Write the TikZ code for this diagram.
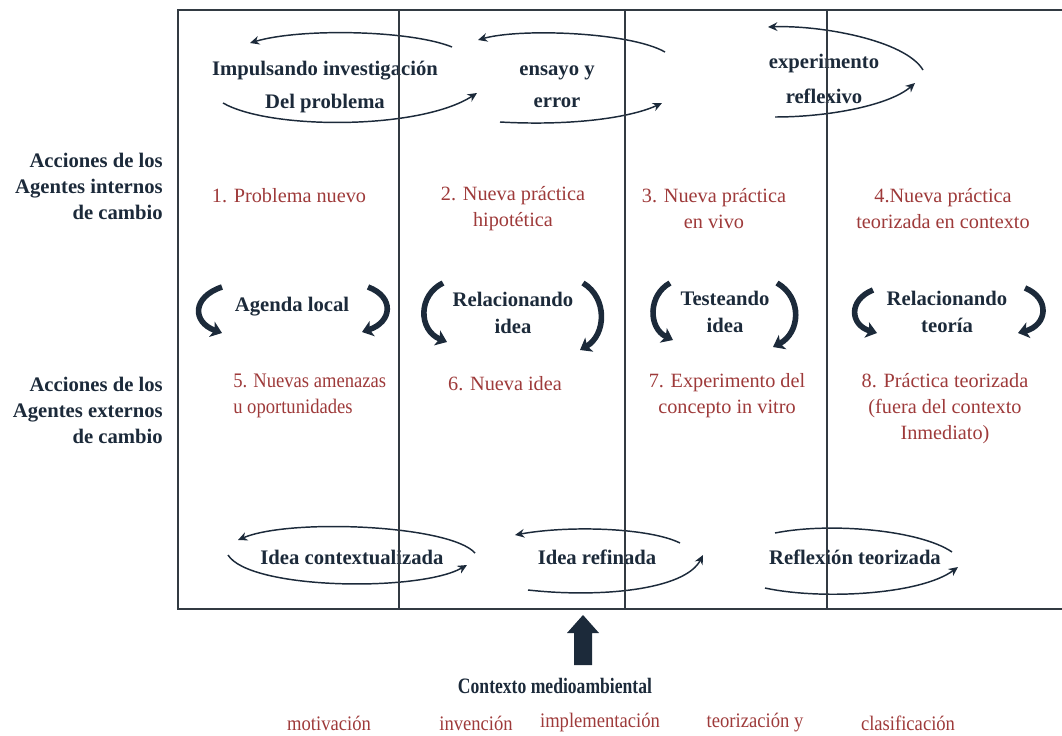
\documentclass[tikz,border=0pt]{standalone}
\usepackage{fontspec}
\setmainfont{Liberation Serif}
\newfontfamily\narrowserif{Liberation Serif}[FakeStretch=0.8]
\newfontfamily\slimserif{Liberation Serif}[FakeStretch=0.9]
\usetikzlibrary{arrows.meta}
\definecolor{navy}{RGB}{28,42,58}
\definecolor{rust}{RGB}{158,58,58}
\definecolor{frame}{RGB}{50,58,66}

\begin{document}
\begin{tikzpicture}[x=0.75pt, y=-0.75pt,
		head_style/.style={font=\fontsize{15.5}{19.5}\selectfont\bfseries, text=navy, align=center, inner sep=0pt},
		stage_style/.style={font=\fontsize{15.2}{19.5}\selectfont, text=rust, align=center, inner sep=0pt},
		phase_style/.style={font=\fontsize{15.5}{19.5}\slimserif, text=rust, inner sep=0pt},
		frame_style/.style={draw=frame, line width=1.4pt},
		divider_style/.style={draw=frame, line width=1pt},
		loop_style/.style={draw=navy, line width=1.1pt, -{Stealth[length=7pt,width=6.5pt]}},
		turn_style/.style={draw=navy, line width=4.2pt, -{Stealth[length=8pt,width=12pt,inset=2pt]}}]

	\useasboundingbox (0,0) rectangle (1062,735);

	% row labels
	\node[head_style, align=right, anchor=east] (int) at (163,186) {Acciones de los\\Agentes internos\\de cambio};
	\node[head_style, align=right, anchor=east] (ext) at (163,410) {Acciones de los\\Agentes externos\\de cambio};

	% top cycles
	\node[head_style, font=\fontsize{15.5}{24.5}\selectfont\bfseries] (c1) at (325,87) {Impulsando investigación\\Del problema};
	\node[head_style, font=\fontsize{15.5}{24}\selectfont\bfseries] (c2) at (557,87) {ensayo y\\error};
	\node[head_style, font=\fontsize{15.5}{26.5}\selectfont\bfseries] (c3) at (824,79) {experimento\\reflexivo};

	\draw[loop_style] (452,47) .. controls (410,30) and (300,28) .. (250,43);
	\draw[loop_style] (223,103) .. controls (270,130) and (420,130) .. (477,93);
	\draw[loop_style] (665,52) .. controls (630,32) and (520,28) .. (478,40);
	\draw[loop_style] (500,122) .. controls (570,126) and (630,118) .. (662,103);
	\draw[loop_style] (923,70) .. controls (905,40) and (820,25) .. (768,27);
	\draw[loop_style] (775,117) .. controls (830,117) and (890,105) .. (915,83);

	% stages
	\node[stage_style] (s1) at (289,196) {1. Problema nuevo};
	\node[stage_style] (s2) at (513,209) {2. Nueva práctica\\hipotética};
	\node[stage_style] (s3) at (714,209) {3. Nueva práctica\\en vivo};
	\node[stage_style] (s4) at (943,209) {4.Nueva práctica\\teorizada en contexto};

	\node[head_style] (m1) at (292,307) {Agenda local};
	\node[head_style, font=\fontsize{15.5}{20}\selectfont\bfseries] (m2) at (513,313) {Relacionando\\idea};
	\node[head_style, font=\fontsize{15.5}{20}\selectfont\bfseries] (m3) at (725,312) {Testeando\\idea};
	\node[head_style, font=\fontsize{15.5}{20}\selectfont\bfseries] (m4) at (947,312) {Relacionando\\teoría};

	\draw[turn_style] (222,287) .. controls (192,297) and (192,322) .. (222,333);
	\draw[turn_style] (368,287) .. controls (395,297) and (392,322) .. (362,332);
	\draw[turn_style] (443,283) .. controls (418,295) and (418,330) .. (447,342);
	\draw[turn_style] (583,283) .. controls (608,298) and (606,335) .. (580,350);
	\draw[turn_style] (670,283) .. controls (648,295) and (648,328) .. (673,340);
	\draw[turn_style] (777,283) .. controls (803,298) and (800,333) .. (773,347);
	\draw[turn_style] (873,290) .. controls (848,300) and (850,325) .. (877,333);
	\draw[turn_style] (1025,288) .. controls (1050,298) and (1048,325) .. (1018,333);

	\node[phase_style, align=left, anchor=west] (s5) at (233,396) {5. Nuevas amenazas\\u oportunidades};
	\node[stage_style] (s6) at (505,384) {6. Nueva idea};
	\node[stage_style] (s7) at (727,396) {7. Experimento del\\concepto in vitro};
	\node[stage_style] (s8) at (945,409) {8. Práctica teorizada\\(fuera del contexto\\Inmediato)};

	% bottom cycles
	\node[head_style] (b1) at (352,557) {Idea contextualizada};
	\node[head_style] (b2) at (597,557) {Idea refinada};
	\node[head_style] (b3) at (855,557) {Reflexión teorizada};

	\draw[loop_style] (475,553) .. controls (450,525) and (290,518) .. (238,540);
	\draw[loop_style] (228,555) .. controls (250,590) and (420,592) .. (467,565);
	\draw[loop_style] (680,543) .. controls (650,528) and (570,525) .. (515,535);
	\draw[loop_style] (528,590) .. controls (600,598) and (685,590) .. (703,555);
	\draw[loop_style, -] (775,533) .. controls (830,522) and (920,530) .. (952,552);
	\draw[loop_style] (765,588) .. controls (820,600) and (920,595) .. (958,567);

	% frame
	\draw[frame_style] (1062,10) -- (178,10) -- (178,609) -- (1062,609);
	\foreach \x in {399,625,827}
		\draw[divider_style] (\x,10) -- (\x,609);

	% context
	\fill[navy] (583,615) -- (599,633) -- (592,633) -- (592,665) -- (574,665) -- (574,633) -- (567,633) -- cycle;
	\node[head_style, font=\fontsize{16.5}{20}\narrowserif\bfseries] (ctx) at (555,686) {Contexto medioambiental};

	\node[phase_style] (p1) at (329,723) {motivación};
	\node[phase_style] (p2) at (476,723) {invención};
	\node[phase_style] (p3) at (600,723) {implementación};
	\node[phase_style] (p4) at (755,723) {teorización y};
	\node[phase_style] (p5) at (908,723) {clasificación};
\end{tikzpicture}
\end{document}
